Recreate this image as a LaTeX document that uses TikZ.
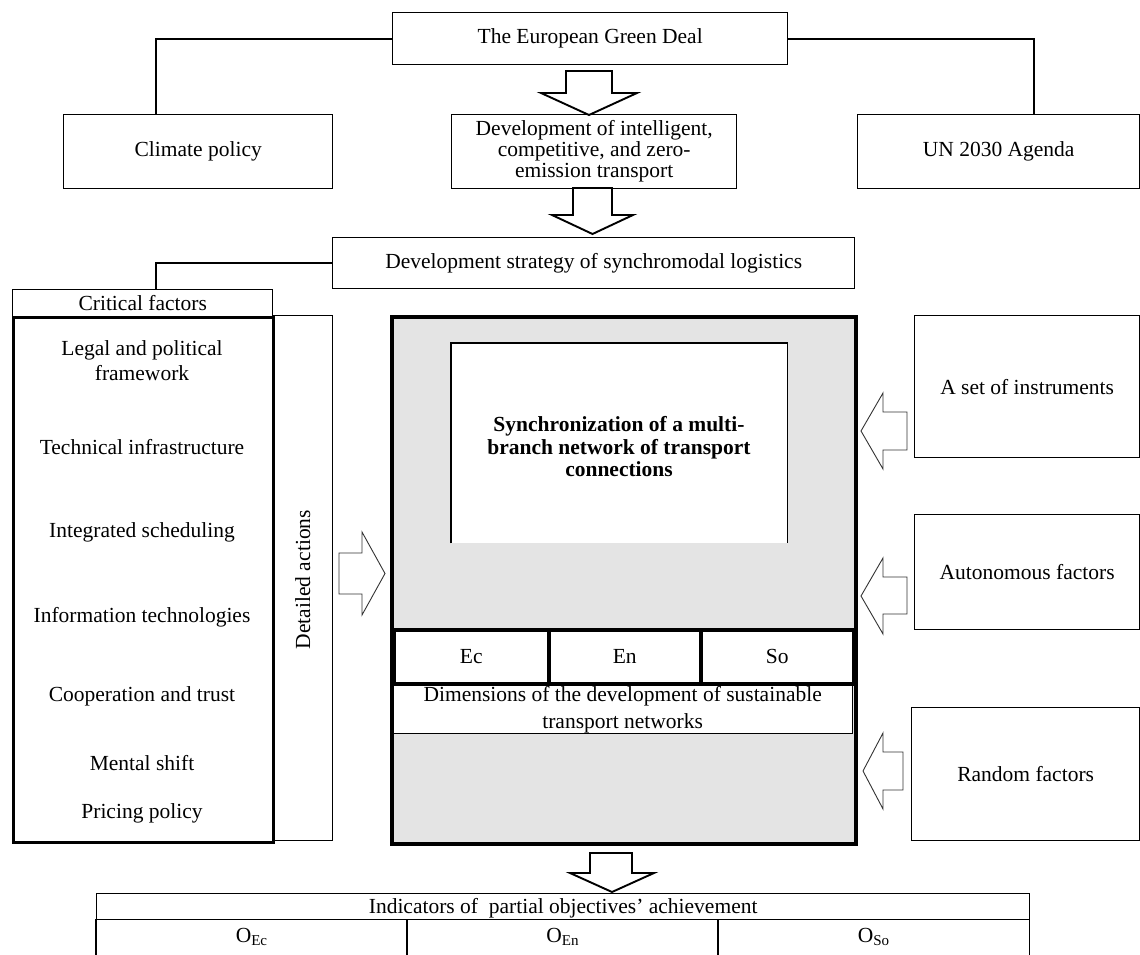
\documentclass[tikz,border=0pt]{standalone}
\usepackage{fontspec}
\setmainfont{Liberation Serif}
\definecolor{cgrey}{HTML}{E4E4E4}
\begin{document}
\begin{tikzpicture}[x=1pt,y=-1pt,
  every node/.style={font=\fontsize{21.5}{25}\selectfont, inner sep=0pt, align=center},
  box/.style={draw, line width=1.4pt, anchor=north west},
  conn/.style={draw, line width=1.8pt},
  bigarrow/.style={draw, line width=1.9pt, fill=white, line join=miter},
  sidearrow/.style={draw=black!80, line width=0.9pt, fill=white, line join=miter},
  thick3/.style={line width=3.5pt}]
\useasboundingbox (0,0) rectangle (1140,955);

% top row
\node[box, minimum width=395pt, minimum height=52pt] (gd) at (392,12) {The European Green Deal};
\node[box, minimum width=269pt, minimum height=74pt] (clim) at (63,114) {Climate policy};
\node[box, minimum width=285pt, minimum height=74pt, font=\fontsize{21.5}{21}\selectfont] (dev) at (451,114) {Development of intelligent,\\competitive, and zero-\\emission transport};
\node[box, minimum width=282pt, minimum height=74pt] (un) at (857,114) {UN 2030 Agenda};
\draw[conn] (gd.west) -| ([xshift=-42.5pt]clim.north);
\draw[conn] (gd.east) -| ([xshift=35pt]un.north);

% strategy
\node[box, minimum width=522pt, minimum height=51pt] (strat) at (332,237) {Development strategy of synchromodal logistics};

% left column
\node[box, minimum width=260pt, minimum height=27pt] (crit) at (12,289) {Critical factors};
\draw[conn] (strat.west) -| ([xshift=13pt]crit.north);
\node[box, minimum width=60pt, minimum height=525pt] (det) at (272,315) {};
\node[box, line width=2.6pt, minimum width=260pt, minimum height=525pt] (list) at (12,316) {};
\node[rotate=90] (dettxt) at ([yshift=-1.5pt]det.center) {Detailed actions};
\node (f1) at (142,361) {Legal and political\\framework};
\node (f2) at (142,447) {Technical infrastructure};
\node (f3) at (142,532) {Integrated scheduling};
\node (f4) at (142,617) {Information technologies};
\node (f5) at (142,696) {Cooperation and trust};
\node (f6) at (142,763) {Mental shift};
\node (f7) at (142,813) {Pricing policy};

% central block
\node[box, draw=none, fill=cgrey, minimum width=463pt, minimum height=526pt] (cbox) at (392,317) {};
\node[anchor=north west, fill=white, minimum width=336pt, minimum height=200pt] (sync) at (451,343) {};
\draw[line width=1.2pt] (sync.south west) -- (sync.north west) -- (sync.north east) -- (sync.south east);
\node[font=\bfseries\fontsize{21.5}{22.5}\selectfont] (synctxt) at (619,447) {Synchronization of a multi-\\branch network of transport\\connections};
\node[box, fill=white, line width=1.3pt, minimum width=460pt, minimum height=51pt] (dims) at (392,682) {};
\node[box, fill=white, thick3, minimum width=155pt, minimum height=54pt] (ec) at (392,628) {Ec};
\node[box, fill=white, thick3, minimum width=152pt, minimum height=54pt] (en) at (547,628) {En};
\node[box, fill=white, thick3, minimum width=153pt, minimum height=54pt] (so) at (699,628) {So};
\node[font=\fontsize{21.5}{27}\selectfont] (dimstxt) at ([yshift=-2pt]dims.center) {Dimensions of the development of sustainable\\transport networks};
\draw[line width=4pt] (cbox.north west) rectangle (cbox.south east);

% right column
\node[box, line width=1.3pt, minimum width=225pt, minimum height=142pt] (instr) at (914,315) {A set of instruments};
\node[box, line width=1.3pt, minimum width=225pt, minimum height=115pt] (auton) at (914,514) {Autonomous factors};
\node[box, line width=1.3pt, minimum width=228pt, minimum height=133pt] (rand) at (911,707) {Random factors};

% block arrows
\draw[bigarrow] (566,71) -- (612,71) -- (612,93) -- (637,93) -- (589,115) -- (541,93) -- (566,93) -- cycle;
\draw[bigarrow] (573,188) -- (612,188) -- (612,215) -- (633,215) -- (592.5,234) -- (552,215) -- (573,215) -- cycle;
\draw[bigarrow] (590,853) -- (632,853) -- (632,873) -- (654,873) -- (612,892) -- (570,873) -- (590,873) -- cycle;
\draw[sidearrow] (339,553) -- (362,553) -- (362,532) -- (385,573.5) -- (362,615) -- (362,594) -- (339,594) -- cycle;
\draw[sidearrow] (907,412) -- (883,412) -- (883,393) -- (861,431) -- (883,469) -- (883,450) -- (907,450) -- cycle;
\draw[sidearrow] (907,577) -- (883,577) -- (883,558) -- (861,596) -- (883,634) -- (883,614) -- (907,614) -- cycle;
\draw[sidearrow] (903,752) -- (883,752) -- (883,733) -- (863,771) -- (883,809) -- (883,790) -- (903,790) -- cycle;

% bottom table
\node[box, line width=1.3pt, minimum width=933pt, minimum height=26pt] (ind) at (96,893) {};
\node (indtxt) at ([yshift=-1.5pt]ind.center) {Indicators of\ \ partial objectives’ achievement};
\node[anchor=north west, minimum width=311pt, minimum height=36pt] (oec) at (96,919) {O\textsubscript{Ec}};
\node[anchor=north west, minimum width=311pt, minimum height=36pt] (oen) at (407,919) {O\textsubscript{En}};
\node[anchor=north west, minimum width=311pt, minimum height=36pt] (oso) at (718,919) {O\textsubscript{So}};
\draw[line width=1.3pt] (oec.north west) -- (oec.south west);
\draw[line width=1.3pt] (oen.north west) -- (oen.south west);
\draw[line width=1.3pt] (oso.north west) -- (oso.south west);
\draw[line width=1.3pt] (oso.north east) -- (oso.south east);
\end{tikzpicture}
\end{document}
